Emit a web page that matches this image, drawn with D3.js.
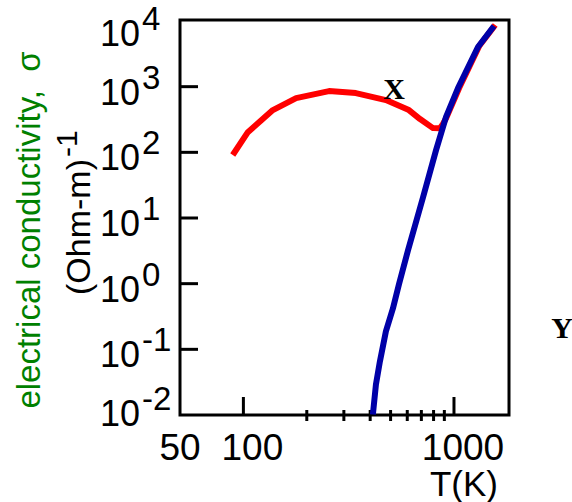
<!DOCTYPE html>
<html><head><meta charset="utf-8">
<script src="https://cdn.jsdelivr.net/npm/d3@7"></script>
<style>body{margin:0;background:#fff}svg{display:block}</style>
</head><body><div id="c"></div>
<script>
// ---- data ----
const yTickExps = [-2, -1, 0, 1, 2, 3, 4];
const xTickLabels = [50, 100, 1000];
const xMinorTicks = [200, 300, 400, 500, 600, 700, 800, 900];
const xMajorTicks = [100, 1000];
// red curve: (T in K, sigma in (Ohm-m)^-1)
const redT = [89, 105, 138, 178, 255, 342, 475, 611, 690, 795, 858, 880, 918, 1058, 1318, 1570];
const redS = [91, 203, 440, 670, 857, 798, 625, 440, 321, 234, 232, 260, 332, 952, 4160, 8690];
// blue curve
const blueT = [412, 426, 445, 475, 513, 548, 605, 713, 822, 916, 1045, 1300, 1549];
const blueS = [0.0102, 0.0292, 0.0656, 0.188, 0.42, 0.98, 3.23, 20.7, 108, 344, 953, 4020, 8400];

const W = 572, H = 502;
const svg = d3.select("#c").append("svg").attr("width", W).attr("height", H);
const x = d3.scaleLog().domain([50, 1825]).range([180, 509]);
const y = d3.scaleLog().domain([0.01, 10000]).range([415, 21]);
const font = "'Liberation Sans', Arial, sans-serif";

// frame
svg.append("rect").attr("x", 180).attr("y", 20).attr("width", 329).attr("height", 395)
  .attr("fill", "none").attr("stroke", "#000").attr("stroke-width", 3);

// y ticks
yTickExps.filter(e => e > -2 && e < 4).forEach(e => {
  svg.append("line").attr("x1", 180).attr("x2", 198)
    .attr("y1", y(Math.pow(10, e))).attr("y2", y(Math.pow(10, e)))
    .attr("stroke", "#000").attr("stroke-width", 3);
});
// y tick labels
yTickExps.forEach(e => {
  const base = Math.min(Math.max(y(Math.pow(10, e)) + 18, 46), 426);
  const t = svg.append("text").attr("x", 100).attr("y", base)
    .attr("font-family", font).attr("font-size", 36).attr("fill", "#000");
  t.append("tspan").text("10");
  t.append("tspan").attr("dy", -16).attr("dx", 2).attr("font-size", 33).text(String(e));
});

// x ticks
xMajorTicks.forEach(v => {
  svg.append("line").attr("x1", x(v)).attr("x2", x(v)).attr("y1", 415).attr("y2", 397)
    .attr("stroke", "#000").attr("stroke-width", 3);
});
xMinorTicks.forEach(v => {
  svg.append("line").attr("x1", x(v)).attr("x2", x(v)).attr("y1", 410).attr("y2", 421)
    .attr("stroke", "#000").attr("stroke-width", 3);
});
xTickLabels.forEach(v => {
  svg.append("text").attr("x", x(v) + (v === 50 ? 0 : 9)).attr("y", 460)
    .attr("text-anchor", "middle").attr("font-family", font).attr("font-size", 37)
    .attr("fill", "#000").text(v);
});
svg.append("text").attr("x", 464).attr("y", 496).attr("text-anchor", "middle")
  .attr("font-family", font).attr("font-size", 35).attr("fill", "#000").text("T(K)");

// y titles
svg.append("text").attr("transform", "translate(40,230) rotate(-90)")
  .attr("text-anchor", "middle").attr("font-family", font).attr("font-size", 33)
  .attr("fill", "#008000").attr("xml:space", "preserve").style("white-space", "pre")
  .text("electrical conductivity,  σ");
const t2 = svg.append("text").attr("transform", "translate(90,295) rotate(-90)")
  .attr("font-family", font).attr("font-size", 34).attr("fill", "#000");
t2.append("tspan").text("(Ohm-m)");
t2.append("tspan").attr("dy", -13).attr("dx", 2).attr("font-size", 30).text("-1");

// curves
const line = d3.line().x(d => x(d[0])).y(d => y(d[1]));
svg.append("path").datum(redT.map((t, i) => [t, redS[i]])).attr("d", line)
  .attr("fill", "none").attr("stroke", "#ff0000").attr("stroke-width", 6)
  .attr("stroke-linejoin", "round");
svg.append("path").datum(blueT.map((t, i) => [t, blueS[i]])).attr("d", line)
  .attr("fill", "none").attr("stroke", "#0000a8").attr("stroke-width", 6)
  .attr("stroke-linejoin", "round");

// annotations
svg.append("text").attr("x", 394).attr("y", 99).attr("text-anchor", "middle")
  .attr("font-family", "'Liberation Serif', 'Times New Roman', serif").attr("font-weight", "bold")
  .attr("font-size", 30).attr("fill", "#000").text("X");
svg.append("text").attr("x", 562).attr("y", 338).attr("text-anchor", "middle")
  .attr("font-family", "'Liberation Serif', 'Times New Roman', serif").attr("font-weight", "bold")
  .attr("font-size", 30).attr("fill", "#000").text("Y");
</script></body></html>
